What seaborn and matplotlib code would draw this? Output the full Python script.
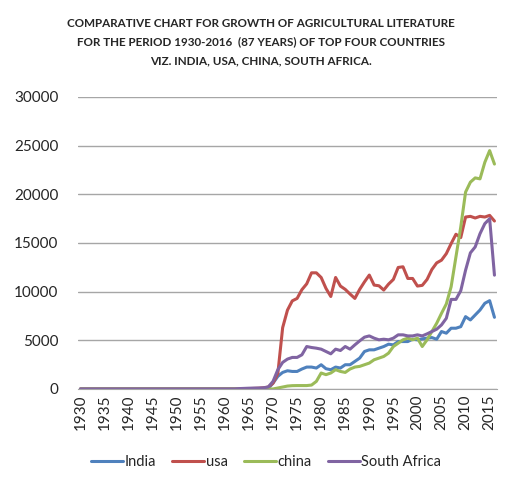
import numpy as np
import pandas as pd
import matplotlib
matplotlib.use("Agg")
import matplotlib.pyplot as plt
import seaborn as sns

years = list(range(1930, 2017))

# values 1963-2016; earlier years are flat at zero
india_tail = [0, 0, 0, 0, 0, 20, 50,
              600, 1300, 1700, 1870, 1800, 1800, 2050, 2250, 2250, 2150,
              2490, 2080, 1980, 2250, 2150, 2490, 2490, 2830, 3170, 3850,
              4020, 4020, 4190, 4360, 4600, 4530, 4870, 4870, 4870, 5110,
              5050, 5150, 5220, 5280, 5110, 5900, 5730, 6240, 6240, 6400,
              7430, 7090, 7600, 8110, 8800, 9070, 7360]
usa_tail = [0, 20, 40, 60, 80, 120, 200,
            600, 1600, 6300, 8100, 9050, 9300, 10200, 10800, 11930, 11930,
            11450, 10330, 9500, 11450, 10570, 10230, 9750, 9300, 10230, 11000,
            11700, 10670, 10600, 10160, 10770, 11250, 12480, 12550, 11350, 11350,
            10570, 10640, 11250, 12270, 12950, 13230, 13900, 14930, 15890, 15550,
            17660, 17730, 17560, 17730, 17660, 17830, 17250]
china_tail = [0, 0, 0, 0, 0, 0, 0,
              0, 100, 200, 300, 340, 350, 350, 350, 400, 780,
              1640, 1470, 1640, 1980, 1800, 1700, 2050, 2250, 2320, 2490,
              2660, 3000, 3170, 3340, 3680, 4360, 4700, 5050, 5220, 5050,
              5220, 4360, 5050, 5900, 6750, 7770, 8730, 10500, 13570, 16640,
              20220, 21240, 21680, 21580, 23280, 24480, 23100]
safrica_tail = [40, 60, 80, 90, 100, 120, 200,
                780, 1980, 2730, 3070, 3240, 3240, 3510, 4360, 4260, 4190,
                4090, 3850, 3610, 4090, 3950, 4360, 4090, 4530, 4940, 5320,
                5450, 5220, 5050, 5110, 5050, 5220, 5560, 5560, 5450, 5450,
                5560, 5450, 5660, 5900, 6140, 6580, 7260, 9200, 9200, 10090,
                12200, 13980, 14590, 15950, 16980, 17490, 11690]

n_lead = len(years) - len(india_tail)
india = [0] * n_lead + india_tail
usa = [0] * n_lead + usa_tail
china = [0] * n_lead + china_tail
safrica = [0] * n_lead + safrica_tail

countries = ["India", "usa", "china", "South Africa"]
colors = ["#4F81BD", "#C0504D", "#9BBB59", "#8064A2"]

df = pd.DataFrame({"year": years, "India": india, "usa": usa,
                   "china": china, "South Africa": safrica})
long = df.melt(id_vars="year", var_name="country", value_name="value")

sns.set_style("white")
plt.rcParams["font.family"] = ["Lato", "DejaVu Sans"]

fig = plt.figure(figsize=(5.07, 4.82), dpi=100)
ax = fig.add_axes([0.154, 0.193, 0.826, 0.606])

sns.lineplot(data=long, x="year", y="value", hue="country",
             hue_order=countries, palette=colors, linewidth=2.2, ax=ax)

ax.set_xlim(1929.5, 2016.5)
ax.set_ylim(0, 30000)
ax.set_yticks(range(0, 30001, 5000))
ax.set_xticks(range(1930, 2016, 5))
ax.set_xticklabels([str(y) for y in range(1930, 2016, 5)], rotation=90, fontsize=11)
ax.tick_params(axis="y", labelsize=11, length=0, pad=14)
ax.tick_params(axis="x", length=0, pad=4)
ax.grid(axis="y", color="#a6a6a6", linewidth=1)
ax.set_axisbelow(True)
for s in ["left", "right", "top"]:
    ax.spines[s].set_visible(False)
ax.spines["bottom"].set_color("#a6a6a6")
ax.set_xlabel("")
ax.set_ylabel("")

ax.legend(loc="center", bbox_to_anchor=(0.449, -0.25), ncol=4,
          frameon=False, fontsize=10.5, handlelength=2.2, handletextpad=0.1,
          columnspacing=1.1)

fig.text(0.515, 0.963, "COMPARATIVE CHART FOR GROWTH OF AGRICULTURAL LITERATURE\n"
         "FOR THE PERIOD 1930-2016  (87 YEARS) OF TOP FOUR COUNTRIES\n"
         "VIZ. INDIA, USA, CHINA, SOUTH AFRICA.",
         ha="center", va="top", fontsize=8.4, fontweight="bold",
         color="#262626", linespacing=1.85)

fig.savefig("out.png", dpi=100)
